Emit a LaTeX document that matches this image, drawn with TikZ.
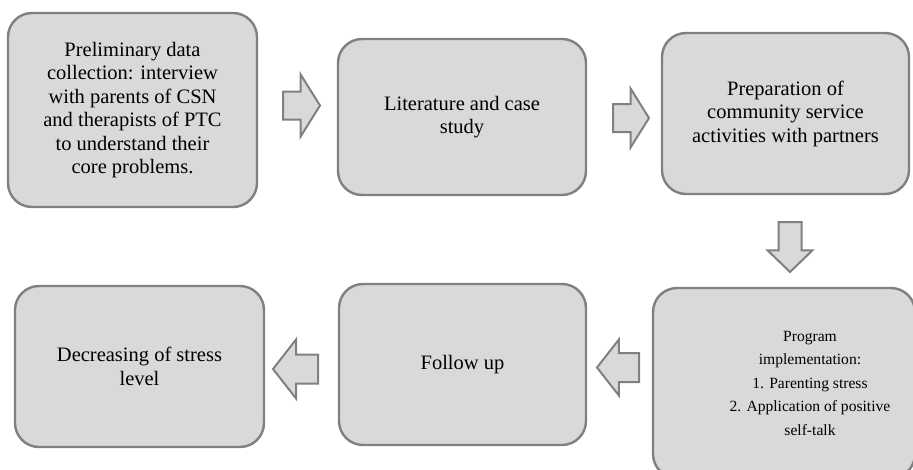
\documentclass[tikz,border=0pt]{standalone}
\usepackage{fontspec}
\setmainfont{Liberation Serif}
\usetikzlibrary{shapes.arrows}
\definecolor{boxfill}{HTML}{D9D9D9}
\definecolor{boxline}{HTML}{808080}
\tikzset{
  stage/.style={draw=boxline,fill=boxfill,line width=2.4pt,rounded corners=24pt,
                align=center,inner sep=0pt,font=\fontsize{20.5}{23.5}\selectfont},
  stagetext/.style={align=center,inner sep=0pt,font=\fontsize{15.6}{23.5}\selectfont},
  flowarrow/.style={single arrow,draw=boxline,fill=boxfill,line width=2pt,
                    inner xsep=0pt,anchor=tail},
  % length, shaft width, head width, tip angle
  arrowsize/.style n args={4}{minimum height=#1,inner ysep=#2/2,
                    single arrow head extend=#3/2-#2/2,single arrow tip angle=#4}
}
\begin{document}
\begin{tikzpicture}[x=1pt,y=-1pt]
  \useasboundingbox (0,0) rectangle (913,469);
  \clip (0,0) rectangle (913,469);
  % top row
  \node[stage,minimum width=249,minimum height=194] (prelim) at (132.5,110)
    {Preliminary data\\collection: interview\\with parents of CSN\\and therapists of PTC\\to understand their\\core problems.};
  \node[stage,minimum width=248,minimum height=156] (lit) at (462,117)
    {Literature and case\\study};
  \node[stage,minimum width=247,minimum height=161] (prep) at (785.5,113.5)
    {Preparation of\\community service\\activities with partners};
  % bottom row
  \node[stage,minimum width=262,minimum height=190] (impl) at (784,383) {};
  \node[stagetext] (impltext) at (810,383)
    {Program\\implementation:\\1. Parenting stress\\2. Application of positive\\self-talk};
  \node[stage,minimum width=247,minimum height=161] (follow) at (462.5,364.5)
    {Follow up};
  \node[stage,minimum width=249,minimum height=161] (decr) at (139.5,366.5)
    {Decreasing of stress\\level};
  % block arrows
  \node[flowarrow,arrowsize={37}{26}{60}{116}] (a1) at (282,105.5) {};
  \node[flowarrow,arrowsize={36}{26}{57}{116}] (a2) at (612,118) {};
  \node[flowarrow,arrowsize={50}{21}{43}{92},rotate=-90] (a3) at (790,221) {};
  \node[flowarrow,arrowsize={42}{27}{54}{104},rotate=180] (a4) at (640,367.5) {};
  \node[flowarrow,arrowsize={45}{27}{57}{104},rotate=180] (a5) at (319,369) {};
\end{tikzpicture}
\end{document}
